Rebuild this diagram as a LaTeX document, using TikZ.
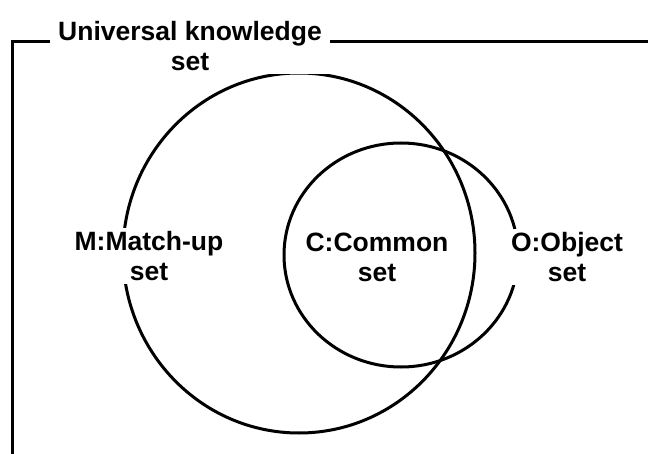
\documentclass[tikz,border=0pt]{standalone}
\usepackage{fontspec}
\setmainfont{Liberation Sans}
\begin{document}
\begin{tikzpicture}[x=1pt,y=-1pt,
  lbl/.style={align=center,font=\bfseries\fontsize{26.5}{30}\selectfont,fill=white,inner sep=3pt},
  setline/.style={line width=3pt,black}]
\useasboundingbox (0,0) rectangle (648,454);
\coordinate (mc) at (299,253);
\coordinate (oc) at (401,255);
\coordinate (fl) at (12,42);
\coordinate (fb) at (12,460);
\coordinate (fr) at (660,42);
% frame
\draw[setline] (fb) -- (fl) -- (fr);
% circles
\draw[setline] (mc) ellipse [x radius=176, y radius=180];
\draw[setline] (oc) ellipse [x radius=117, y radius=112];
% labels
\node[lbl,inner xsep=8pt] (u) at (190,46) {Universal knowledge\\set};
\node[lbl] (m) at (149,256) {M:Match-up\\set};
\node[lbl] (c) at (377,257) {C:Common\\set};
\node[lbl] (o) at (567,257) {O:Object\\set};
\end{tikzpicture}
\end{document}
